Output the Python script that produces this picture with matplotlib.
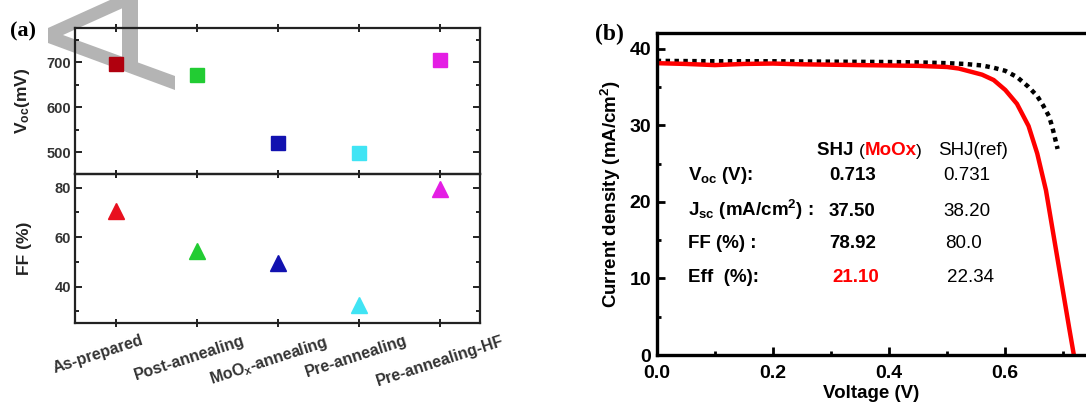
import matplotlib
matplotlib.use('Agg')
import matplotlib.pyplot as plt
from matplotlib.patches import Polygon
from matplotlib.ticker import MultipleLocator, FormatStrFormatter
from matplotlib.transforms import ScaledTranslation

plt.rcParams['font.family'] = ['Liberation Sans', 'DejaVu Sans']
plt.rcParams['mathtext.fontset'] = 'custom'
plt.rcParams['mathtext.rm'] = 'Liberation Sans'
plt.rcParams['mathtext.bf'] = 'Liberation Sans:bold'
plt.rcParams['mathtext.it'] = 'Liberation Sans:italic'

# ---------------- data ----------------
categories = ['As-prepared', 'Post-annealing', r'MoO$_\mathbf{x}$-annealing',
              'Pre-annealing', 'Pre-annealing-HF']
voc_mv = [696, 672, 521, 499, 704]
ff_pct = [70.7, 54.5, 49.5, 32.6, 79.4]
square_colors = ['#b0000e', '#22cc33', '#1212b0', '#40e4f4', '#e41ee4']
triangle_colors = ['#e8101e', '#22cc33', '#1212b0', '#40e4f4', '#e41ee4']

v_moox = [0.0, 0.05, 0.10, 0.15, 0.20, 0.25, 0.30, 0.35, 0.40, 0.45, 0.50,
          0.52, 0.54, 0.56, 0.58, 0.60, 0.62, 0.64, 0.655, 0.67, 0.68, 0.69,
          0.70, 0.71, 0.718]
j_moox = [38.1, 38.0, 37.85, 38.0, 38.05, 37.95, 37.9, 37.85, 37.8, 37.75, 37.6,
          37.4, 37.0, 36.6, 35.9, 34.6, 32.8, 29.9, 26.3, 21.5, 17.0, 12.5,
          8.0, 3.5, 0.0]
v_ref = [0.0, 0.1, 0.2, 0.3, 0.4, 0.45, 0.5, 0.53, 0.56, 0.58, 0.60, 0.62,
         0.64, 0.655, 0.665, 0.675, 0.68, 0.685, 0.69]
j_ref = [38.4, 38.35, 38.35, 38.3, 38.25, 38.2, 38.1, 38.0, 37.8, 37.5, 37.1, 36.3,
         35.0, 33.8, 32.6, 31.2, 30.0, 28.5, 26.9]

row_labels = [r'V$_\mathbf{oc}$ (V):', r'J$_\mathbf{sc}$ (mA/cm$^\mathbf{2}$) :',
              'FF (%) :', 'Eff  (%):']
moox_values = ['0.713', '37.50', '78.92', '21.10']
ref_values = ['0.731', '38.20', '80.0', '22.34']

W, H = 1086, 407
fig = plt.figure(figsize=(W / 100, H / 100), dpi=100)


def fp(x, y):
    return (x / W, 1 - y / H)


# watermark-like grey shape (behind the axes)
outer = [fp(48, 28), fp(110, 0), fp(138, 0), fp(138, 62.5), fp(175, 76),
         fp(175, 90), fp(48, 43)]
inner = [fp(63, 35), fp(122, 8.4), fp(122, 56.6)]
fig.patches.append(Polygon(outer, closed=True, transform=fig.transFigure,
                           facecolor='#b4b4b4', edgecolor='none', zorder=-2))
fig.patches.append(Polygon(inner, closed=True, transform=fig.transFigure,
                           facecolor='white', edgecolor='none', zorder=-1))

# ---------------- panel (a) ----------------
ax1 = fig.add_axes([75 / W, 0.5725, 405 / W, 0.9305 - 0.5725])
ax2 = fig.add_axes([75 / W, 0.2056, 405 / W, 0.5725 - 0.2056])
xs = list(range(len(categories)))
for ax in (ax1, ax2):
    ax.set_facecolor('none')
    for s in ax.spines.values():
        s.set_linewidth(1.6)
        s.set_color('#222222')
    ax.set_xlim(-0.5, len(categories) - 0.5)
    ax.set_xticks(xs)
    ax.tick_params(axis='x', direction='inout', length=6, width=1.4,
                   top=True, bottom=True, colors='#222222')
    ax.tick_params(axis='y', which='both', direction='in', left=True, right=True,
                   width=1.4, colors='#222222', labelsize=10.5, pad=3)
    ax.tick_params(axis='y', which='major', length=5)
    ax.tick_params(axis='y', which='minor', length=3)

for x, v, c in zip(xs, voc_mv, square_colors):
    ax1.plot(x, v, marker='s', ms=10, color=c, mec=c, linestyle='none')
for x, f, c in zip(xs, ff_pct, triangle_colors):
    ax2.plot(x, f, marker='^', ms=11, color=c, mec=c, linestyle='none')

ax1.set_ylim(452, 775)
ax1.yaxis.set_major_locator(MultipleLocator(100))
ax1.yaxis.set_minor_locator(MultipleLocator(50))
ax1.set_xticklabels([])
ax1.set_ylabel(r'V$_\mathbf{oc}$(mV)', fontsize=12.5, fontweight='bold',
               color='#222222')

ax2.set_ylim(25.2, 85.5)
ax2.yaxis.set_major_locator(MultipleLocator(20))
ax2.yaxis.set_minor_locator(MultipleLocator(10))
ax2.set_xticklabels(categories, rotation=18, fontsize=11.5, fontweight='bold',
                    color='#333333')
ax2.tick_params(axis='x', pad=4)
label_dx_px = [-17, -7, -9, -2, 0]
for lab, dx in zip(ax2.get_xticklabels(), label_dx_px):
    lab.set_transform(lab.get_transform() +
                      ScaledTranslation(dx / 100, 0, fig.dpi_scale_trans))
ax2.set_ylabel('FF (%)', fontsize=12.5, fontweight='bold', color='#222222')
for ax in (ax1, ax2):
    for lab in ax.get_yticklabels():
        lab.set_fontweight('bold')
        lab.set_color('#333333')
ax1.yaxis.set_label_coords(-0.105, 0.5)
ax2.yaxis.set_label_coords(-0.105, 0.5)

fig.text(10 / W, 1 - 36 / H, '(a)', family='Liberation Serif', fontweight='bold',
         fontsize=16, ha='left', va='baseline')

# ---------------- panel (b) ----------------
xmax = (W - 656.7) / 581.0
axb = fig.add_axes([656.7 / W, 1 - 355 / H, (W - 656.7) / W, (355 - 33.3) / H])
axb.plot(v_ref, j_ref, color='black', lw=3.2, linestyle=(0, (1.0, 1.0)))
axb.plot(v_moox, j_moox, color='#ff0000', lw=3.2, solid_capstyle='butt')
axb.set_xlim(0, xmax)
axb.set_ylim(0, 42)
axb.spines['right'].set_visible(False)
for s in ('left', 'bottom', 'top'):
    axb.spines[s].set_linewidth(2.4)
axb.xaxis.set_major_locator(MultipleLocator(0.2))
axb.xaxis.set_minor_locator(MultipleLocator(0.1))
axb.yaxis.set_major_locator(MultipleLocator(10))
axb.yaxis.set_minor_locator(MultipleLocator(5))
axb.tick_params(which='both', direction='in', width=2, top=False, right=False)
axb.tick_params(which='major', length=6, labelsize=14)
axb.tick_params(which='minor', length=3)
axb.tick_params(axis='x', pad=7)
axb.tick_params(axis='y', pad=4)
axb.xaxis.set_major_formatter(FormatStrFormatter('%.1f'))
for lab in axb.get_xticklabels() + axb.get_yticklabels():
    lab.set_fontweight('bold')
axb.set_xlabel('Voltage (V)', fontsize=13.5, fontweight='bold', labelpad=2)
axb.set_ylabel(r'Current density (mA/cm$^\mathbf{2}$)', fontsize=13.5,
               fontweight='bold', labelpad=5)

# header
fs = 13.5
t1 = axb.text(0.2754, 26.1, 'SHJ ', fontsize=fs, fontweight='bold', va='baseline')
t2 = axb.annotate('(', xy=(1, 0), xycoords=t1, fontsize=fs - 1, va='bottom')
t3 = axb.annotate('MoOx', xy=(1, 0), xycoords=t2, fontsize=fs, fontweight='bold',
                  color='#ff0000', va='bottom')
t4 = axb.annotate(')', xy=(1, 0), xycoords=t3, fontsize=fs - 1, va='bottom')
axb.text(0.484, 26.1, 'SHJ(ref)', fontsize=fs, va='baseline')

row_y = [22.8, 18.1, 14.0, 9.56]
moox_x = [0.2966, 0.2966, 0.2966, 0.302]
ref_x = [0.4933, 0.4933, 0.496, 0.499]
for i in range(4):
    axb.text(0.054, row_y[i], row_labels[i], fontsize=fs, fontweight='bold',
             va='baseline')
    axb.text(moox_x[i], row_y[i], moox_values[i], fontsize=fs, fontweight='bold',
             va='baseline', color='#ff0000' if i == 3 else 'black')
    axb.text(ref_x[i], row_y[i], ref_values[i], fontsize=fs, va='baseline')

fig.text(595 / W, 1 - 40 / H, '(b)', family='Liberation Serif', fontweight='bold',
         fontsize=17, ha='left', va='baseline')

fig.savefig('out.png', dpi=100, facecolor='white')
